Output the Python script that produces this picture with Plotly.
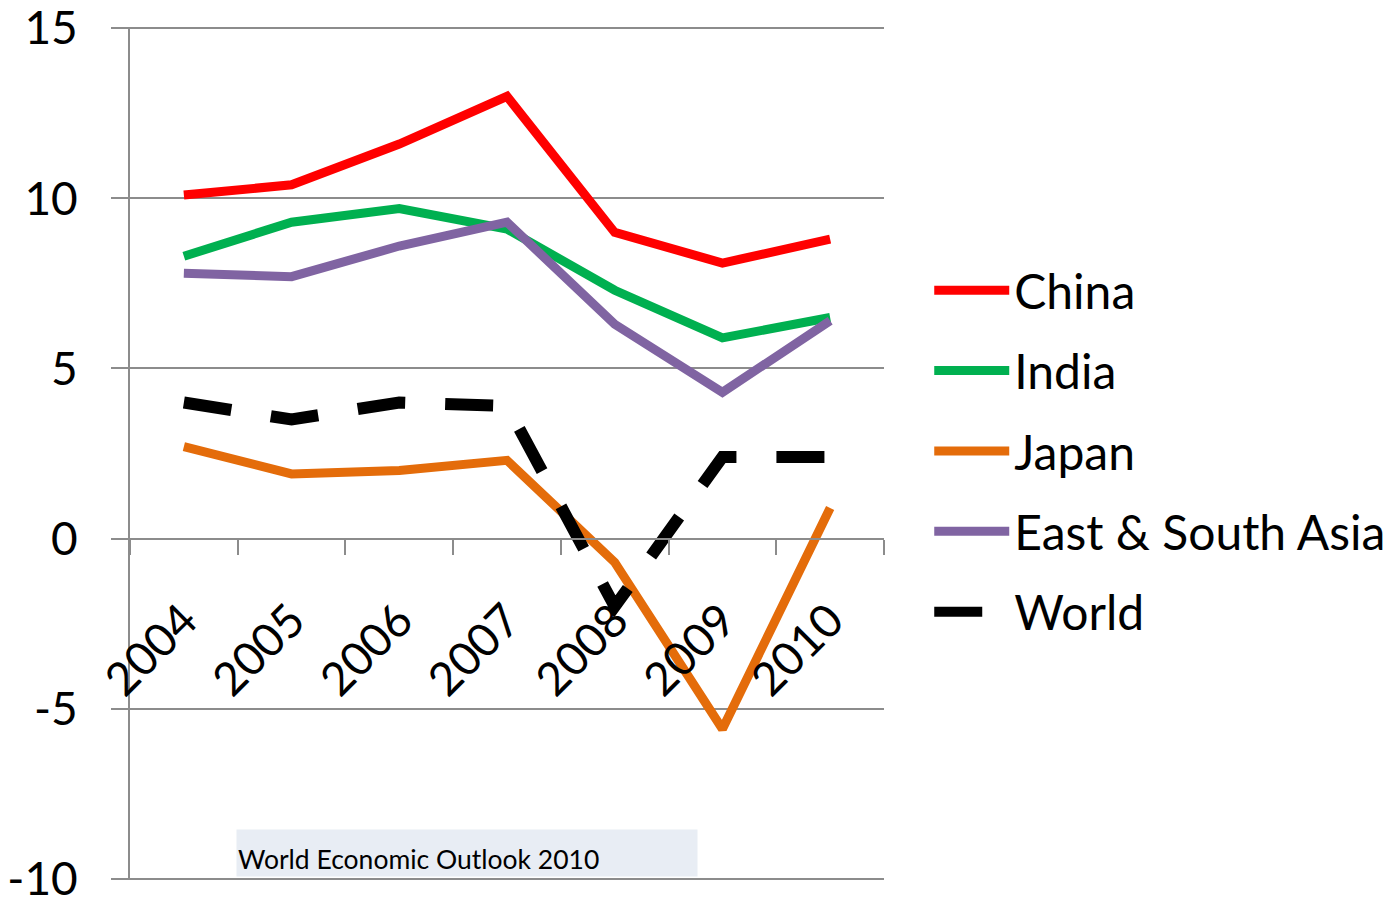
import plotly.graph_objects as go

years = ["2004", "2005", "2006", "2007", "2008", "2009", "2010"]
china = [10.1, 10.4, 11.6, 13.0, 9.0, 8.1, 8.8]
india = [8.3, 9.3, 9.7, 9.1, 7.3, 5.9, 6.5]
japan = [2.7, 1.9, 2.0, 2.3, -0.7, -5.6, 0.9]
east_south_asia = [7.8, 7.7, 8.6, 9.3, 6.3, 4.3, 6.4]
world = [4.0, 3.5, 4.0, 3.9, -2.0, 2.4, 2.4]

y_ticks = [15, 10, 5, 0, -5, -10]
y_tick_labels = ["15", "10", "5", "0", "-5", "-10"]
source_note = "World Economic Outlook 2010"

FONT = "Lato, 'Open Sans', sans-serif"
GRID = "#8c8c8c"

series = [
    ("China", china, "#FF0000", 9, "solid"),
    ("India", india, "#00B050", 9, "solid"),
    ("Japan", japan, "#E46C0A", 9, "solid"),
    ("East & South Asia", east_south_asia, "#8064A2", 9, "solid"),
    ("World", world, "#000000", 12, "48px,40px"),
]

fig = go.Figure()
for i, (name, vals, color, w, dash) in enumerate(series):
    fig.add_trace(go.Scatter(
        x=years, y=vals, mode="lines", name=name,
        legendgroup=str(i),
        line=dict(color=color, width=w, dash=dash),
    ))

fig.update_layout(
    width=1393, height=900,
    margin=dict(l=122, r=517, t=19, b=28, autoexpand=False),
    plot_bgcolor="white", paper_bgcolor="white",
    font=dict(family=FONT, size=44, color="black"),
    showlegend=True,
    legend=dict(
        x=1.06, y=0.503, xanchor="left", yanchor="middle",
        font=dict(size=48, family=FONT),
        tracegroupgap=15, itemwidth=75,
        bgcolor="rgba(0,0,0,0)",
    ),
    xaxis=dict(
        type="category", range=[-0.5, 6.5],
        anchor="free", position=0.4, automargin=False,
        showgrid=False, showline=True, linecolor=GRID, linewidth=2,
        ticks="outside", tickson="boundaries", ticklen=15, tickwidth=2, tickcolor=GRID,
        tickangle=-45, tickfont=dict(size=46, family=FONT, color="black"),
        ticklabelstandoff=35, ticklabeloverflow="allow",
    ),
    yaxis=dict(
        range=[-10.04, 15.04], tickvals=y_ticks, ticktext=y_tick_labels,
        automargin=False,
        showgrid=True, gridcolor=GRID, gridwidth=2,
        zeroline=False,
        showline=True, linecolor=GRID, linewidth=2,
        ticks="outside", ticklen=17, tickwidth=2, tickcolor=GRID,
        tickfont=dict(size=46, family=FONT, color="black"),
        ticklabelstandoff=24, ticklabeloverflow="allow",
    ),
    annotations=[dict(
        text=source_note, xref="paper", yref="paper",
        x=(236 - 130) / 754, y=0.003, xanchor="left", yanchor="bottom",
        showarrow=False, align="left",
        font=dict(size=26.5, family=FONT, color="black"),
        bgcolor="#E8EDF4", width=458, height=44, valign="bottom",
    )],
)

fig.write_html("out.html")
